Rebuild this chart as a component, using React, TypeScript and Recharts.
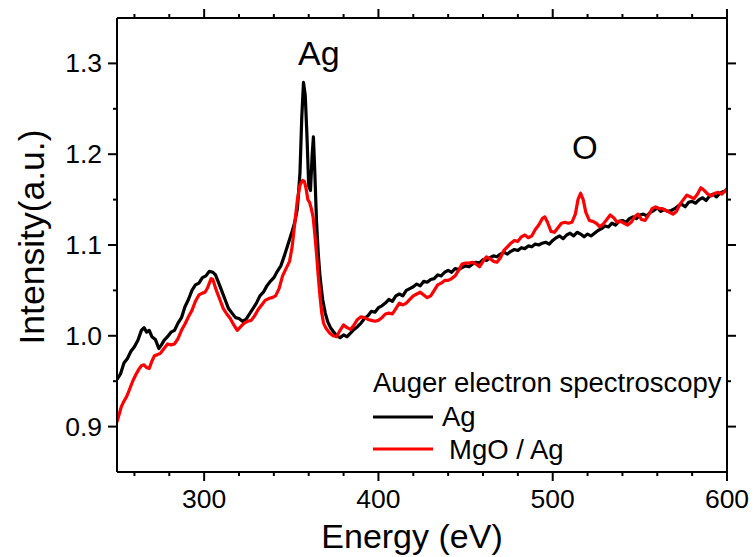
import React from 'react'
import { LineChart, Line, XAxis, YAxis } from 'recharts'

// Ag reference spectrum (black)
const agEnergy = [
  250, 252, 254, 256, 258, 260, 262, 264, 265.5, 267, 268.5, 270, 272, 274, 275.5, 277, 279, 281, 283, 285,
  287, 289, 291, 293, 295, 297, 299, 301, 303, 305, 306.5, 308, 310, 312, 314, 316, 318, 320, 322, 324,
  326, 328, 330, 332, 334, 336, 338, 340, 342, 344, 346, 348, 350, 352, 353.5, 355, 356, 357, 358, 359,
  360, 361, 362, 362.7, 363.5, 364.5, 365.5, 366.5, 368, 369.5, 371, 372.5, 374, 376, 378, 380, 382, 384, 386, 388,
  390, 392, 394, 396, 398, 400, 402, 404, 406, 408, 410, 412, 414, 416, 418, 420, 422, 424, 426, 428,
  430, 432, 434, 436, 438, 440, 442, 444, 446, 448, 450, 452, 454, 456, 458, 460, 462, 464, 466, 468,
  470, 472, 474, 476, 478, 480, 482, 484, 486, 488, 490, 492, 494, 496, 498, 500, 502, 504, 506, 508,
  510, 512, 514, 516, 518, 520, 522, 524, 526, 528, 530, 532, 534, 536, 538, 540, 542, 544, 546, 548,
  550, 552, 554, 556, 558, 560, 562, 564, 566, 568, 570, 572, 574, 576, 578, 580, 582, 584, 586, 588,
  590, 592, 594, 596, 598, 600,
]
const agIntensity = [
  0.952, 0.958, 0.970, 0.975, 0.983, 0.988, 0.995, 1.006, 1.009, 1.004, 1.006, 0.999, 0.996, 0.986, 0.990, 0.995, 0.999, 1.004, 1.006, 1.014,
  1.020, 1.032, 1.040, 1.050, 1.056, 1.058, 1.064, 1.066, 1.071, 1.070, 1.067, 1.060, 1.050, 1.040, 1.030, 1.025, 1.020, 1.019, 1.016, 1.018,
  1.024, 1.030, 1.036, 1.044, 1.048, 1.055, 1.060, 1.064, 1.071, 1.077, 1.088, 1.100, 1.112, 1.125, 1.140, 1.180, 1.240, 1.279, 1.265, 1.220,
  1.165, 1.160, 1.200, 1.219, 1.180, 1.125, 1.090, 1.065, 1.040, 1.025, 1.015, 1.009, 1.005, 1.000, 0.998, 1.001, 0.999, 1.003, 1.007, 1.010,
  1.014, 1.019, 1.022, 1.027, 1.026, 1.031, 1.033, 1.036, 1.040, 1.038, 1.044, 1.046, 1.044, 1.050, 1.052, 1.054, 1.057, 1.055, 1.060, 1.059,
  1.062, 1.063, 1.067, 1.066, 1.070, 1.072, 1.070, 1.074, 1.073, 1.075, 1.077, 1.076, 1.079, 1.081, 1.080, 1.084, 1.083, 1.086, 1.088, 1.087,
  1.090, 1.092, 1.090, 1.093, 1.095, 1.094, 1.097, 1.096, 1.099, 1.098, 1.101, 1.100, 1.102, 1.103, 1.101, 1.105, 1.108, 1.110, 1.107, 1.111,
  1.113, 1.110, 1.114, 1.112, 1.109, 1.112, 1.110, 1.113, 1.116, 1.118, 1.121, 1.120, 1.124, 1.122, 1.126, 1.127, 1.125, 1.129, 1.131, 1.129,
  1.133, 1.134, 1.132, 1.136, 1.138, 1.141, 1.137, 1.139, 1.137, 1.138, 1.140, 1.143, 1.145, 1.142, 1.147, 1.148, 1.146, 1.150, 1.152, 1.149,
  1.154, 1.156, 1.153, 1.157, 1.159, 1.160,
]

// MgO / Ag spectrum (red)
const mgoEnergy = [
  250, 251, 252.5, 254, 255.5, 257, 259, 261, 262.5, 264, 265.5, 267, 268.5, 270, 271.5, 273, 275, 277, 279, 281,
  283, 285, 287, 289, 291, 293, 295, 297, 299, 300.5, 302, 304, 305, 307, 309, 311, 313, 315, 317, 319,
  321, 323, 325, 327, 329, 331, 333, 335, 337, 339, 341, 343, 345, 347, 349, 350.5, 352, 353.5, 355, 356.5,
  357.5, 358.5, 359.5, 360.5, 361.5, 362.5, 363.5, 364.5, 365.5, 366.5, 367.5, 368.5, 370, 372, 374, 376, 378, 380, 382, 384,
  386, 388, 390, 392, 394, 396, 398, 400, 402, 404, 406, 408, 410, 412, 414, 416, 418, 420, 422, 424,
  426, 428, 430, 432, 434, 436, 438, 440, 442, 444, 446, 448, 450, 452, 454, 456, 458, 460, 462, 464,
  466, 468, 470, 472, 474, 476, 478, 480, 482, 484, 486, 488, 490, 492, 494, 495.5, 497, 499, 501, 503,
  505, 507, 509, 511, 513, 514.5, 516, 517.5, 519, 521, 523, 525, 527, 529, 531, 533, 535, 537, 539, 541,
  543, 545, 547, 549, 551, 553, 555, 557, 559, 561, 563, 565, 567, 569, 571, 573, 575, 577, 579, 581,
  583, 585, 587, 589, 591, 593, 595, 597, 599, 600,
]
const mgoIntensity = [
  0.905, 0.912, 0.922, 0.928, 0.933, 0.940, 0.950, 0.958, 0.963, 0.967, 0.968, 0.965, 0.964, 0.972, 0.978, 0.979, 0.981, 0.986, 0.991, 0.990,
  0.991, 0.997, 1.006, 1.013, 1.021, 1.028, 1.038, 1.045, 1.047, 1.048, 1.053, 1.063, 1.062, 1.050, 1.040, 1.030, 1.024, 1.019, 1.012, 1.006,
  1.010, 1.014, 1.016, 1.017, 1.022, 1.029, 1.034, 1.039, 1.041, 1.042, 1.044, 1.052, 1.066, 1.074, 1.082, 1.098, 1.124, 1.150, 1.166, 1.171,
  1.170, 1.162, 1.150, 1.147, 1.140, 1.131, 1.112, 1.090, 1.065, 1.043, 1.025, 1.014, 1.008, 1.003, 1.000, 0.999, 1.006, 1.012, 1.009, 1.007,
  1.012, 1.018, 1.021, 1.020, 1.018, 1.017, 1.016, 1.017, 1.020, 1.024, 1.025, 1.024, 1.030, 1.036, 1.034, 1.036, 1.040, 1.044, 1.046, 1.048,
  1.045, 1.042, 1.044, 1.050, 1.056, 1.058, 1.061, 1.061, 1.063, 1.066, 1.072, 1.079, 1.080, 1.080, 1.081, 1.079, 1.076, 1.082, 1.087, 1.085,
  1.082, 1.081, 1.086, 1.094, 1.098, 1.102, 1.105, 1.104, 1.109, 1.111, 1.108, 1.110, 1.117, 1.122, 1.129, 1.131, 1.125, 1.115, 1.114, 1.119,
  1.124, 1.125, 1.124, 1.125, 1.134, 1.150, 1.157, 1.150, 1.136, 1.127, 1.126, 1.124, 1.120, 1.123, 1.128, 1.133, 1.130, 1.125, 1.126, 1.124,
  1.122, 1.125, 1.131, 1.134, 1.128, 1.127, 1.133, 1.140, 1.142, 1.140, 1.140, 1.138, 1.136, 1.134, 1.137, 1.145, 1.150, 1.155, 1.153, 1.151,
  1.156, 1.163, 1.160, 1.156, 1.154, 1.157, 1.158, 1.156, 1.160, 1.162,
]

const xTicks = [260, 280, 300, 320, 340, 360, 380, 400, 420, 440, 460, 480, 500, 520, 540, 560, 580, 600]
const xMajor = [300, 400, 500, 600]
const yTicks = [0.9, 0.95, 1.0, 1.05, 1.1, 1.15, 1.2, 1.25, 1.3]
const yMajor = [0.9, 1.0, 1.1, 1.2, 1.3]

const agData = agEnergy.map((e, i) => ({ e, v: agIntensity[i] }))
const mgoData = mgoEnergy.map((e, i) => ({ e, v: mgoIntensity[i] }))

const FONT = '"Liberation Sans", Arial, sans-serif'
const isMajor = (list: number[], v: number) => list.some((m) => Math.abs(m - v) < 1e-6)

const makeTick = (side: 'bottom' | 'top' | 'left' | 'right') => (props: any) => {
  const { x, y, payload } = props
  const value = payload.value
  const major = side === 'bottom' || side === 'top' ? isMajor(xMajor, value) : isMajor(yMajor, value)
  const len = major ? 9 : 4
  if (side === 'bottom') {
    return (
      <g>
        <line x1={x} x2={x} y1={y} y2={y + len} stroke="#000" strokeWidth={2} />
        {major && (
          <text x={x} y={y + 36} textAnchor="middle" fontSize={26.5} fontFamily={FONT} fill="#000">
            {value}
          </text>
        )}
      </g>
    )
  }
  if (side === 'top') {
    return <line x1={x} x2={x} y1={y} y2={y - len} stroke="#000" strokeWidth={2} />
  }
  if (side === 'left') {
    return (
      <g>
        <line x1={x} x2={x - len} y1={y} y2={y} stroke="#000" strokeWidth={2} />
        {major && (
          <text x={x - 15} y={y + 9} textAnchor="end" fontSize={26.5} fontFamily={FONT} fill="#000">
            {value.toFixed(1)}
          </text>
        )}
      </g>
    )
  }
  return <line x1={x} x2={x + len} y1={y} y2={y} stroke="#000" strokeWidth={2} />
}

export default function App() {
  const axisLine = { stroke: '#000', strokeWidth: 2 }
  return (
    <div style={{ position: 'relative', width: 755, height: 557, background: '#fff' }}>
      <style>{'body{margin:0}'}</style>
      <LineChart width={755} height={557} margin={{ top: 17, right: 27, bottom: 0, left: 0 }}>
        <XAxis
          xAxisId="b"
          type="number"
          dataKey="e"
          domain={[250, 600]}
          allowDataOverflow
          ticks={xTicks}
          interval={0}
          height={85}
          tickSize={0}
          tickMargin={0}
          tickLine={false}
          axisLine={axisLine}
          tick={makeTick('bottom')}
        />
        <XAxis
          xAxisId="t"
          orientation="top"
          type="number"
          dataKey="e"
          domain={[250, 600]}
          allowDataOverflow
          ticks={xTicks}
          interval={0}
          height={1}
          tickSize={0}
          tickMargin={0}
          tickLine={false}
          axisLine={axisLine}
          tick={makeTick('top')}
        />
        <YAxis
          yAxisId="l"
          type="number"
          domain={[0.85, 1.35]}
          allowDataOverflow
          ticks={yTicks}
          interval={0}
          width={117}
          tickSize={0}
          tickMargin={0}
          tickLine={false}
          axisLine={axisLine}
          tick={makeTick('left')}
        />
        <YAxis
          yAxisId="r"
          orientation="right"
          type="number"
          domain={[0.85, 1.35]}
          allowDataOverflow
          ticks={yTicks}
          interval={0}
          width={1}
          tickSize={0}
          tickMargin={0}
          tickLine={false}
          axisLine={axisLine}
          tick={makeTick('right')}
        />
        <Line
          xAxisId="b"
          yAxisId="l"
          data={agData}
          dataKey="v"
          type="linear"
          stroke="#000"
          strokeWidth={3.2}
          dot={false}
          strokeLinejoin="round"
          isAnimationActive={false}
        />
        <Line
          xAxisId="b"
          yAxisId="l"
          data={mgoData}
          dataKey="v"
          type="linear"
          stroke="#ff0000"
          strokeWidth={3.2}
          dot={false}
          strokeLinejoin="round"
          isAnimationActive={false}
        />
      </LineChart>
      <svg
        width={755}
        height={557}
        style={{ position: 'absolute', left: 0, top: 0, pointerEvents: 'none' }}
        fontFamily={FONT}
      >
        <text x={44} y={237} transform="rotate(-90 44 237)" textAnchor="middle" fontSize={35.5} fill="#000">
          Intensity(a.u.)
        </text>
        <text x={412} y={548} textAnchor="middle" fontSize={34} fill="#000">
          Energy (eV)
        </text>
        <text x={298} y={65} fontSize={34} fill="#000">Ag</text>
        <text x={572} y={159} fontSize={33} fill="#000">O</text>
        <text x={373} y={392} fontSize={27.5} fill="#000">Auger electron spectroscopy</text>
        <line x1={373} x2={433} y1={417} y2={417} stroke="#000" strokeWidth={3} />
        <text x={442} y={426} fontSize={27.5} fill="#000">Ag</text>
        <line x1={373} x2={433} y1={449} y2={449} stroke="#ff0000" strokeWidth={3} />
        <text x={449} y={459} fontSize={27.5} fill="#000">MgO / Ag</text>
      </svg>
    </div>
  )
}
